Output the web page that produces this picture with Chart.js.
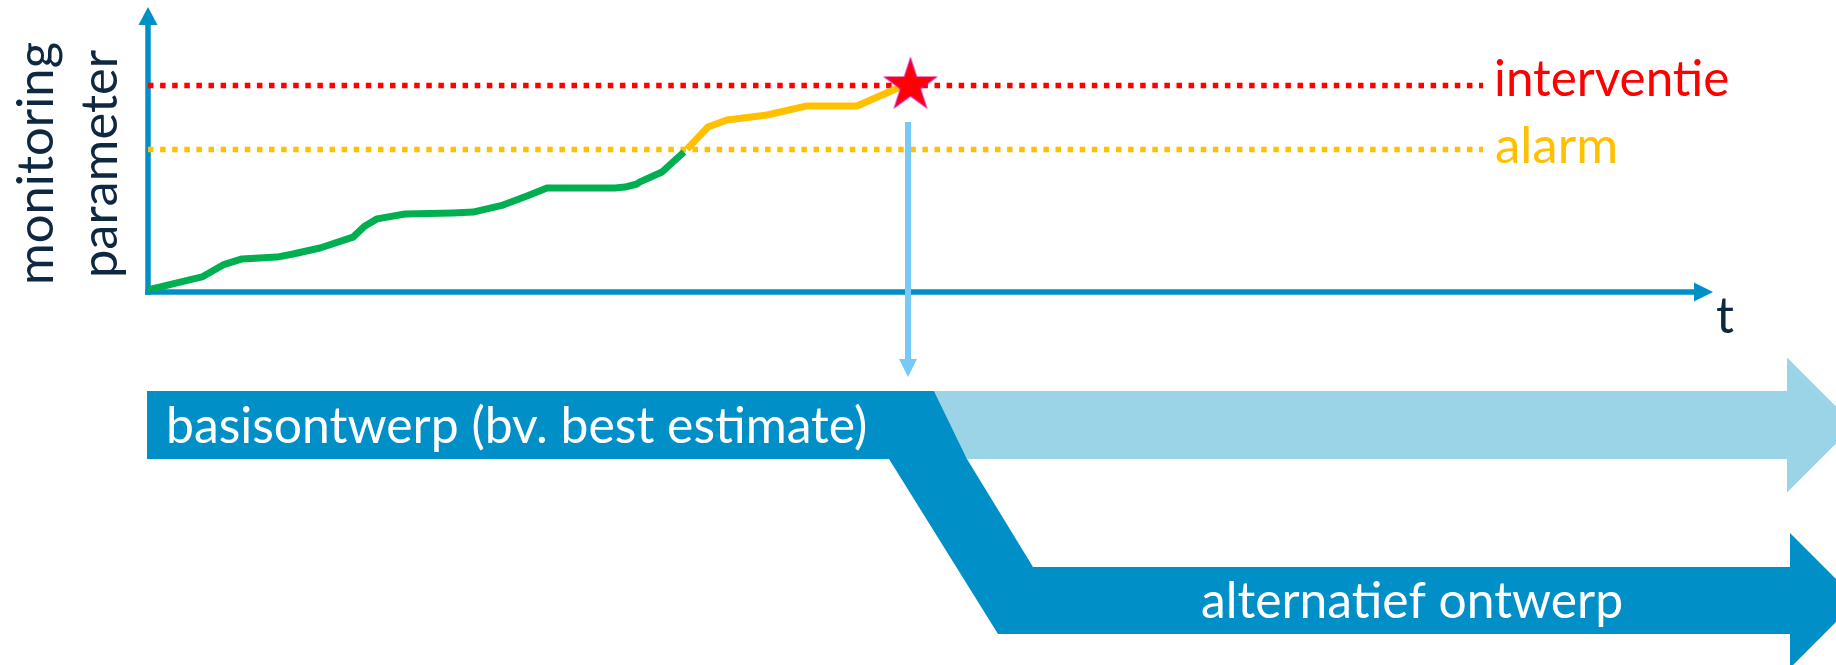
<!DOCTYPE html>
<html>
<head>
<meta charset="utf-8">
<script src="https://cdn.jsdelivr.net/npm/chart.js@4.4.1/dist/chart.umd.min.js"></script>
<style>
  html, body { margin: 0; padding: 0; background: #ffffff; overflow: hidden; }
  canvas { display: block; }
</style>
</head>
<body>
<canvas id="chart" width="1836" height="665"></canvas>
<script>
// Monitoring parameter over time: normal phase (below alarm) and alarm phase
const normalT  = [0, 2.9, 5.4, 7.5, 9.4, 12.9, 14.5, 17.2, 20.5, 21.7, 22.9, 25.7, 30.5, 32.5, 35.5, 37.9, 39.9, 46.7, 47.7, 48.9, 49.2, 51.4, 53.6];
const normalV  = [0.10, 0.44, 0.73, 1.31, 1.60, 1.69, 1.84, 2.13, 2.66, 3.20, 3.54, 3.78, 3.83, 3.87, 4.21, 4.65, 5.04, 5.04, 5.08, 5.23, 5.33, 5.81, 6.78];
const alarmT   = [53.9, 56.0, 57.9, 61.9, 65.9, 70.9, 75.0, 75.6];
const alarmV   = [6.92, 7.99, 8.33, 8.57, 9.01, 9.01, 9.88, 9.95];

// Threshold levels and their labels
const thresholdLabels = ['interventie', 'alarm'];
const thresholdValues = [10, 6.9];
const thresholdEndT = 133.5;

// Moment the intervention level is reached
const triggerT = [76.25];
const triggerV = [10.0];

// Axis ranges
const tMax = 156.5;
const vMax = 13.8;

// Axis titles and design paths
const yTitle = ['monitoring', 'parameter'];
const xTitle = 't';
const designLabels = ['basisontwerp (bv. best estimate)', 'alternatief ontwerp'];

// Design-path band layout below the time axis (t and value units)
const flow = {
  start: -0.1,
  baseTop: -4.79, baseBottom: -8.09,
  altTop: -13.32, altBottom: -16.56,
  splitTopT: 78.6, splitMidT: 81.9, splitLowT: 88.5,
  splitBackT: 74.1, altBackT: 85.0,
  lightHeadT: 163.9, altHeadT: 164.2,
  headHalf: 3.27, headLen: 6.75,
  dropT: 76.0, dropFrom: 8.23, dropTip: -4.12
};

const colors = {
  axis: '#008FC6', text: '#0E2841',
  interventie: '#FF0000', alarm: '#FFC000', normal: '#00B050',
  starFill: '#FF0000', starEdge: '#E2007A',
  dark: '#008FC6', light: '#9BD3E7', drop: '#78C8F8'
};

const toPoints = (xs, ys) => xs.map((x, i) => ({ x: x, y: ys[i] }));

function makeStar(R, fill, stroke, lw) {
  const s = Math.ceil(2 * R + 2 * lw + 4);
  const c = document.createElement('canvas');
  c.width = s; c.height = s;
  const g = c.getContext('2d');
  const cx = s / 2, cy = s / 2, r = R * 0.382;
  g.beginPath();
  for (let i = 0; i < 10; i++) {
    const a = -Math.PI / 2 + i * Math.PI / 5;
    const rr = i % 2 === 0 ? R : r;
    const px = cx + rr * Math.cos(a), py = cy + rr * Math.sin(a);
    if (i === 0) g.moveTo(px, py); else g.lineTo(px, py);
  }
  g.closePath();
  g.fillStyle = fill; g.fill();
  g.lineWidth = lw; g.strokeStyle = stroke; g.lineJoin = 'miter'; g.stroke();
  return c;
}

const FONT = 'Lato, "Open Sans", "Noto Sans", sans-serif';

function fitText(ctx, str, x, baseline, width, size, color, angle) {
  ctx.save();
  ctx.font = size + 'px ' + FONT;
  ctx.fillStyle = color;
  ctx.textBaseline = 'alphabetic';
  ctx.textAlign = 'left';
  const m = ctx.measureText(str);
  const w = m.actualBoundingBoxRight + m.actualBoundingBoxLeft;
  ctx.translate(x, baseline);
  if (angle) ctx.rotate(angle);
  ctx.scale(width / w, 1);
  ctx.fillText(str, m.actualBoundingBoxLeft, 0);
  ctx.restore();
}

function poly(ctx, pts, color) {
  ctx.beginPath();
  pts.forEach((p, i) => i ? ctx.lineTo(p[0], p[1]) : ctx.moveTo(p[0], p[1]));
  ctx.closePath();
  ctx.fillStyle = color;
  ctx.fill();
}

const axesPlugin = {
  id: 'arrowAxes',
  beforeDatasetsDraw(chart) {
    const { ctx, chartArea: a, scales: { x, y } } = chart;
    const x0 = x.getPixelForValue(0), y0 = y.getPixelForValue(0);
    ctx.save();
    ctx.strokeStyle = colors.axis; ctx.fillStyle = colors.axis; ctx.lineWidth = 5.5;
    ctx.lineCap = 'butt';
    // vertical axis
    ctx.beginPath(); ctx.moveTo(x0, y0 + 2.75); ctx.lineTo(x0, a.top + 16); ctx.stroke();
    poly(ctx, [[x0, a.top], [x0 - 9.5, a.top + 18], [x0 + 9.5, a.top + 18]], colors.axis);
    // time axis
    ctx.beginPath(); ctx.moveTo(x0 - 2.75, y0); ctx.lineTo(a.right - 16, y0); ctx.stroke();
    poly(ctx, [[a.right, y0], [a.right - 19, y0 - 9.5], [a.right - 19, y0 + 9.5]], colors.axis);
    ctx.restore();
  },
  afterDatasetsDraw(chart) {
    const { ctx, chartArea: a, scales: { x, y } } = chart;
    const X = v => x.getPixelForValue(v), Y = v => y.getPixelForValue(v);
    const f = flow;
    ctx.save();

    // lighter band: continuing the base design
    const lc = (f.baseTop + f.baseBottom) / 2;
    poly(ctx, [
      [X(f.splitTopT), Y(f.baseTop)], [X(f.lightHeadT), Y(f.baseTop)],
      [X(f.lightHeadT), Y(lc + f.headHalf)], [X(f.lightHeadT + f.headLen), Y(lc)],
      [X(f.lightHeadT), Y(lc - f.headHalf)], [X(f.lightHeadT), Y(f.baseBottom)],
      [X(f.splitMidT), Y(f.baseBottom)]
    ], colors.light);

    // dark band: base design switching to the alternative design
    const ac = (f.altTop + f.altBottom) / 2;
    poly(ctx, [
      [X(f.start), Y(f.baseTop)], [X(f.splitTopT), Y(f.baseTop)],
      [X(f.splitMidT), Y(f.baseBottom)], [X(f.splitLowT), Y(f.altTop)],
      [X(f.altHeadT), Y(f.altTop)], [X(f.altHeadT), Y(ac + f.headHalf)],
      [X(f.altHeadT + f.headLen), Y(ac)], [X(f.altHeadT), Y(ac - f.headHalf)],
      [X(f.altHeadT), Y(f.altBottom)], [X(f.altBackT), Y(f.altBottom)],
      [X(f.splitBackT), Y(f.baseBottom)], [X(f.start), Y(f.baseBottom)]
    ], colors.dark);

    // drop arrow from the intervention moment to the design paths
    const dx = X(f.dropT);
    ctx.strokeStyle = colors.drop; ctx.lineWidth = 6; ctx.lineCap = 'butt';
    ctx.beginPath(); ctx.moveTo(dx, Y(f.dropFrom)); ctx.lineTo(dx, Y(f.dropTip) - 17); ctx.stroke();
    poly(ctx, [[dx, Y(f.dropTip)], [dx - 9, Y(f.dropTip) - 18], [dx + 9, Y(f.dropTip) - 18]], colors.drop);

    // threshold labels
    const lx = X(thresholdEndT) + 13;
    fitText(ctx, thresholdLabels[0], lx, Y(thresholdValues[0]) + 11, 232, 50, colors.interventie);
    fitText(ctx, thresholdLabels[1], lx, Y(thresholdValues[1]) + 13, 119, 50, colors.alarm);

    // axis titles
    fitText(ctx, yTitle[0], 53, Y(0) - 10, 239, 50, colors.text, -Math.PI / 2);
    fitText(ctx, yTitle[1], 117, Y(0) - 17, 225, 50, colors.text, -Math.PI / 2);
    ctx.font = '50px ' + FONT; ctx.fillStyle = colors.text; ctx.textBaseline = 'alphabetic';
    ctx.fillText(xTitle, a.right + 3, Y(0) + 41);

    // design path labels
    const bc = (Y(f.baseTop) + Y(f.baseBottom)) / 2;
    fitText(ctx, designLabels[0], X(f.start) + 22, bc + 18, 697, 50, '#FFFFFF');
    const acp = (Y(f.altTop) + Y(f.altBottom)) / 2;
    const mid = (X(f.splitLowT) + X(f.altHeadT)) / 2;
    fitText(ctx, designLabels[1], mid - 209.5, acp + 17.5, 419, 50, '#FFFFFF');

    ctx.restore();
  }
};

const line = (data, color, width, order, dash) => ({
  data: data, borderColor: color, backgroundColor: color, borderWidth: width,
  borderDash: dash || [], borderCapStyle: 'butt', borderJoinStyle: 'round',
  pointRadius: 0, tension: 0, fill: false, order: order
});

new Chart(document.getElementById('chart'), {
  type: 'line',
  data: {
    datasets: [
      Object.assign(line(toPoints(triggerT, triggerV), colors.starFill, 0, 0), {
        showLine: false, pointRadius: 26, pointStyle: makeStar(26.5, colors.starFill, colors.starEdge, 1.5)
      }),
      line(toPoints(alarmT, alarmV), colors.alarm, 7, 1),
      line(toPoints(normalT, normalV), colors.normal, 7, 2),
      line(toPoints([0, thresholdEndT], [thresholdValues[0], thresholdValues[0]]), colors.interventie, 5.5, 3, [5.5, 6.6]),
      line(toPoints([0, thresholdEndT], [thresholdValues[1], thresholdValues[1]]), colors.alarm, 5.5, 4, [5.5, 6.6])
    ]
  },
  options: {
    responsive: false,
    devicePixelRatio: 1,
    animation: false,
    events: [],
    layout: { autoPadding: false, padding: { left: 148, right: 123, top: 7, bottom: 373 } },
    plugins: { legend: { display: false }, tooltip: { enabled: false } },
    scales: {
      x: { type: 'linear', min: 0, max: tMax, display: false },
      y: { type: 'linear', min: 0, max: vMax, display: false }
    }
  },
  plugins: [axesPlugin]
});
</script>
</body>
</html>
